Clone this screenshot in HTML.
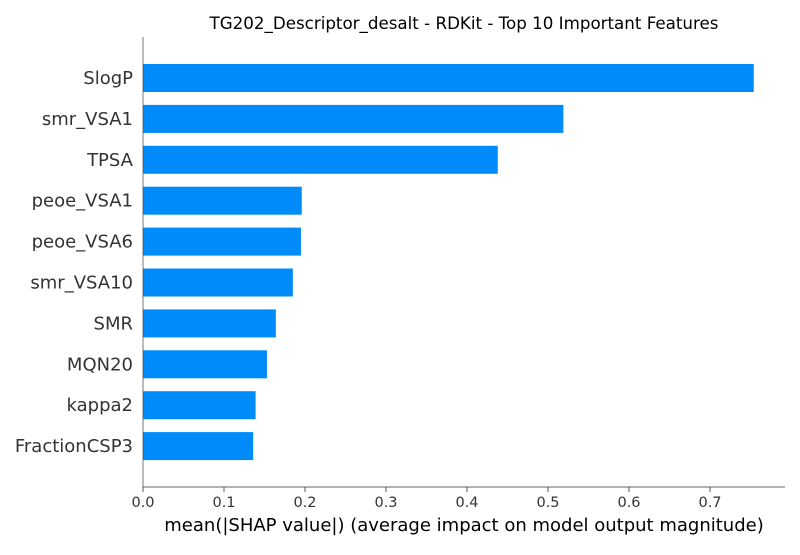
<!DOCTYPE html>
<html><head><meta charset="utf-8"><style>
body{margin:0;background:#fff;}
svg text{font-family:"DejaVu Sans","Liberation Sans",sans-serif;}
</style></head><body>
<svg id="chart" width="800" height="550" xmlns="http://www.w3.org/2000/svg">
<text x="464" y="29" font-size="16.7" text-anchor="middle" fill="#000">TG202_Descriptor_desalt - RDKit - Top 10 Important Features</text>
<g id="bars"></g>
<g id="axes"></g>
<text x="464" y="531" font-size="18" text-anchor="middle" fill="#000">mean(|SHAP value|) (average impact on model output magnitude)</text>
</svg>
<script>
const features=["SlogP","smr_VSA1","TPSA","peoe_VSA1","peoe_VSA6","smr_VSA10","SMR","MQN20","kappa2","FractionCSP3"];
const values=[0.754,0.519,0.438,0.196,0.195,0.185,0.164,0.153,0.139,0.136];
const ticks=[0,0.1,0.2,0.3,0.4,0.5,0.6,0.7];
const tickLabels=["0.0","0.1","0.2","0.3","0.4","0.5","0.6","0.7"];
const ns="http://www.w3.org/2000/svg";
const x0=143,scale=810;
const xs=v=>x0+v*scale;
const ys=i=>78+i*40.9;
const bars=document.getElementById('bars'),axes=document.getElementById('axes');
function mk(tag,attrs,parent){const e=document.createElementNS(ns,tag);for(const k in attrs)e.setAttribute(k,attrs[k]);parent.appendChild(e);return e;}
features.forEach((f,i)=>{
 const r=mk('rect',{x:x0,y:ys(i)-14,width:xs(values[i])-x0,height:28,fill:'#008bfb'},bars);
 
 
 const t=mk('text',{x:133,y:ys(i)+6,'font-size':18,'text-anchor':'end',fill:'#333'},axes);
 t.textContent=f;
 
 
});
const yl=mk('line',{x1:143,y1:37,x2:143,y2:487,stroke:'#555','stroke-width':0.8},axes);


const xl=mk('line',{x1:143,y1:487,x2:785,y2:487,stroke:'#333','stroke-width':0.8},axes);


ticks.forEach((v,i)=>{
 const l=mk('line',{x1:xs(v),y1:487,x2:xs(v),y2:492,stroke:'#333','stroke-width':0.8},axes);
 
 
 const t=mk('text',{x:xs(v),y:507,'font-size':14.5,'text-anchor':'middle',fill:'#333'},axes);
 t.textContent=tickLabels[i];
 
 
});
</script>
</body></html>
